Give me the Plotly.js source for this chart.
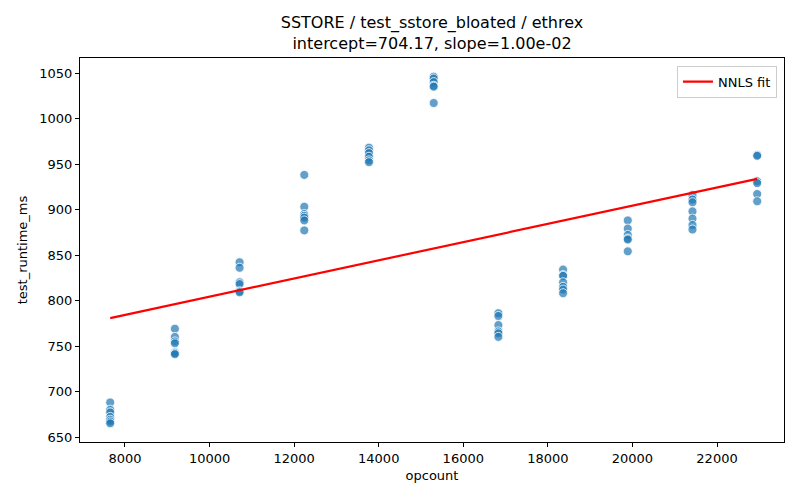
<!DOCTYPE html>
<html>
<head>
<meta charset="utf-8">
<script src="https://cdn.plot.ly/plotly-3.0.1.min.js"></script>
<style>
  body { margin: 0; }
  #plot { width: 800px; height: 500px; }
</style>
</head>
<body>
<div id="plot"></div>
<script>
// opcount groups and measured runtimes (ms) per group
const opcounts = [7650, 9180, 10710, 12240, 13770, 15300, 16830, 18360, 19890, 21420, 22950];
const runtimes = [
  [688, 680, 677, 672, 669, 667, 665],
  [769, 760, 755, 753, 743, 742, 741],
  [842, 836, 820, 818, 810, 809],
  [938, 903, 895, 893, 891, 888, 877],
  [968, 965, 962, 958, 954, 952],
  [1046, 1044, 1040, 1036, 1035, 1017],
  [786, 783, 773, 766, 764, 760],
  [834, 828, 827, 820, 815, 812, 808],
  [888, 879, 872, 868, 867, 854],
  [916, 911, 908, 898, 890, 883, 878],
  [960, 959, 931, 929, 917, 909]
];

// NNLS fit end points
const fitX = [7650, 22950];
const fitY = [780.67, 933.67];

// flatten the groups for the scatter
let xs = [], ys = [];
opcounts.forEach((op, i) => {
  runtimes[i].forEach(v => { xs.push(op); ys.push(v); });
});

const points = {
  x: xs,
  y: ys,
  type: 'scatter',
  mode: 'markers',
  showlegend: false,
  marker: {
    color: 'rgba(31,119,180,0.7)',
    size: 9,
    line: { color: 'white', width: 0.8 }
  }
};

const fit = {
  x: fitX,
  y: fitY,
  type: 'scatter',
  mode: 'lines',
  name: 'NNLS fit',
  line: { color: 'red', width: 2.2 }
};

const axisStyle = {
  showline: true,
  mirror: true,
  linecolor: 'black',
  linewidth: 1,
  ticks: 'outside',
  ticklen: 4,
  tickcolor: 'black',
  showgrid: false,
  zeroline: false,
  tickfont: { size: 13, color: 'black' }
};

const layout = {
  width: 800,
  height: 500,
  font: { family: 'DejaVu Sans', color: 'black' },
  paper_bgcolor: 'white',
  plot_bgcolor: 'white',
  margin: { l: 80, r: 16, t: 58, b: 58 },
  title: {
    text: 'SSTORE / test_sstore_bloated / ethrex<br>intercept=704.17, slope=1.00e-02',
    font: { size: 16 },
    x: 0.54,
    xanchor: 'center',
    yref: 'paper',
    y: 1,
    yanchor: 'bottom',
    pad: { b: 30 }
  },
  xaxis: Object.assign({}, axisStyle, {
    range: [6936, 23584],
    tickvals: [8000, 10000, 12000, 14000, 16000, 18000, 20000, 22000],
    ticktext: ['8000', '10000', '12000', '14000', '16000', '18000', '20000', '22000'],
    title: { text: 'opcount', font: { size: 13 }, standoff: 6 }
  }),
  yaxis: Object.assign({}, axisStyle, {
    range: [644.5, 1066.5],
    tickvals: [650, 700, 750, 800, 850, 900, 950, 1000, 1050],
    title: { text: 'test_runtime_ms', font: { size: 13 }, standoff: 8 }
  }),
  showlegend: true,
  legend: {
    x: 0.99,
    y: 0.98,
    xanchor: 'right',
    yanchor: 'top',
    bgcolor: 'white',
    bordercolor: '#cccccc',
    borderwidth: 1,
    font: { size: 13 }
  }
};

Plotly.newPlot('plot', [points, fit], layout, { displayModeBar: false });
</script>
</body>
</html>
